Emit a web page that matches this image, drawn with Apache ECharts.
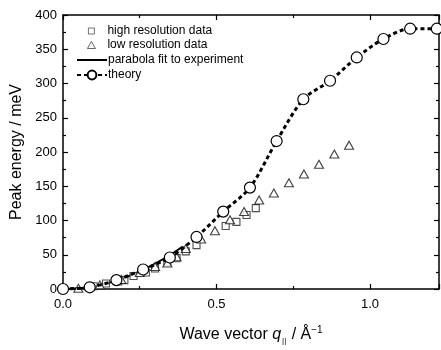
<!DOCTYPE html>
<html>
<head>
<meta charset="utf-8">
<script src="https://cdn.jsdelivr.net/npm/echarts@6/dist/echarts.min.js"></script>
<style>
html,body{margin:0;padding:0;background:#fff;}
#c{width:441px;height:350px;}
</style>
</head>
<body>
<div id="c"></div>
<script>
// ---- data ----
const theoryQ = [0, 0.087, 0.174, 0.261, 0.348, 0.435, 0.522, 0.609, 0.696, 0.783, 0.870, 0.957, 1.044, 1.131, 1.218];
const theoryE = [0, 2.5, 13, 28.5, 46, 76, 113, 148, 216, 277, 304, 338, 365, 380, 380];

const paraQ = [0, 0.05, 0.10, 0.15, 0.20, 0.25, 0.30, 0.35, 0.39];
const paraE = [0, 1, 4, 9, 16.5, 25.5, 37, 50, 62];

const hiQ = [0.10, 0.14, 0.18, 0.20, 0.23, 0.27, 0.30, 0.34, 0.37, 0.40, 0.435, 0.53, 0.565, 0.598, 0.628];
const hiE = [4, 8, 11, 13, 19, 24, 30, 39, 45, 55, 64, 92, 98, 108, 118];

const loQ = [0.05, 0.12, 0.19, 0.25, 0.30, 0.34, 0.37, 0.40, 0.45, 0.495, 0.544, 0.590, 0.639, 0.687, 0.736, 0.785, 0.834, 0.884, 0.932];
const loE = [1, 6, 14, 24, 33, 38, 47, 59, 73, 85, 101, 113, 130, 140, 155, 168, 182, 197, 210];

const xTicks = [0, 0.5, 1.0];
const yTicks = [0, 50, 100, 150, 200, 250, 300, 350, 400];

const names = ['high resolution data', 'low resolution data', 'parabola fit to experiment', 'theory'];

const zip = (a, b) => a.map((v, i) => [v, b[i]]);
const FONT = 'Liberation Sans, Arial, sans-serif';

const chart = echarts.init(document.getElementById('c'), null, {renderer: 'canvas'});

const axisCommon = {
  axisLine: {show: true, onZero: false, lineStyle: {color: '#000', width: 1.5}},
  axisTick: {show: true, inside: true, length: 5, lineStyle: {color: '#000', width: 1.2}},
  minorTick: {show: true, splitNumber: 2, length: 3, lineStyle: {color: '#000', width: 1.2}},
  splitLine: {show: false},
  minorSplitLine: {show: false}
};

// icon centred at x≈91, text starting at x≈107
function legendOf(name, top, h, w, extra) {
  const left = 91 - w / 2;
  const textPad = 107 - (left + w + 5);
  return {
    data: [Object.assign({name: name}, extra || {})], left: left, top: top, orient: 'vertical',
    itemWidth: w, itemHeight: h, selectedMode: false,
    textStyle: {fontSize: 12, fontFamily: FONT, color: '#000', lineHeight: 14, padding: [0, 0, 0, textPad]},
    padding: 0
  };
}

chart.setOption({
  animation: false,
  backgroundColor: '#fff',
  grid: {left: 63, right: 2, top: 15, bottom: 55, containLabel: false},
  legend: [
    legendOf(names[0], 24, 6, 6, {itemStyle: {color: '#fff', borderColor: '#222', borderWidth: 0.8}}),
    legendOf(names[1], 38, 7, 8, {itemStyle: {color: '#fff', borderColor: '#111', borderWidth: 0.8}}),
    legendOf(names[2], 53, 10, 30, {itemStyle: {opacity: 0}}),
    legendOf(names[3], 68, 11, 30)
  ],
  xAxis: [
    Object.assign({}, axisCommon, {
      type: 'value', min: 0, max: 1.225, interval: 0.5, position: 'bottom',
      axisLabel: {show: true, fontSize: 13, fontFamily: FONT, color: '#000', margin: 9,
        showMaxLabel: false,
        formatter: v => xTicks.some(t => Math.abs(t - v) < 1e-6) ? v.toFixed(1) : ''},
      name: '{a|Wave vector }{q|q}{s|||}{a| / Å}{p|−1}',
      nameLocation: 'middle', nameGap: 36,
      nameTextStyle: {
        fontFamily: FONT, color: '#000',
        rich: {
          a: {fontSize: 16, fontFamily: FONT, color: '#000'},
          q: {fontSize: 16, fontFamily: FONT, fontStyle: 'italic', color: '#000'},
          s: {fontSize: 8, fontFamily: FONT, color: '#000', padding: [12, 1, 0, 1]},
          p: {fontSize: 10, fontFamily: FONT, color: '#000', padding: [0, 0, 9, 0]}
        }
      }
    }),
    Object.assign({}, axisCommon, {
      type: 'value', min: 0, max: 1.225, interval: 0.5, position: 'top',
      axisLabel: {show: false}
    })
  ],
  yAxis: [
    Object.assign({}, axisCommon, {
      type: 'value', min: 0, max: 400, interval: 50, position: 'left',
      axisLabel: {show: true, fontSize: 13, fontFamily: FONT, color: '#000', margin: 6},
      name: 'Peak energy / meV', nameLocation: 'middle', nameGap: 36, nameRotate: 90,
      nameTextStyle: {fontSize: 16, fontFamily: FONT, color: '#000'}
    }),
    Object.assign({}, axisCommon, {
      type: 'value', min: 0, max: 400, interval: 50, position: 'right',
      axisLabel: {show: false}
    })
  ],
  series: [
    {
      name: names[2], type: 'line', data: zip(paraQ, paraE), smooth: true,
      symbol: 'none', lineStyle: {color: '#000', width: 2}, itemStyle: {color: '#000'}, z: 2
    },
    {
      name: names[0], type: 'scatter', data: zip(hiQ, hiE), symbol: 'rect', symbolSize: 7,
      itemStyle: {color: '#fff', borderColor: '#222', borderWidth: 1.1}, z: 3
    },
    {
      name: names[1], type: 'scatter', data: zip(loQ, loE), symbol: 'triangle', symbolSize: [9, 8],
      itemStyle: {color: '#fff', borderColor: '#111', borderWidth: 1.1}, z: 3
    },
    {
      name: names[3], type: 'line', data: zip(theoryQ, theoryE), smooth: 0.3,
      symbol: 'circle', symbolSize: 11, showAllSymbol: true, clip: false,
      lineStyle: {color: '#000', width: 3, type: [4, 3]},
      itemStyle: {color: '#fff', borderColor: '#000', borderWidth: 1.2}, z: 4
    }
  ]
});
</script>
</body>
</html>
